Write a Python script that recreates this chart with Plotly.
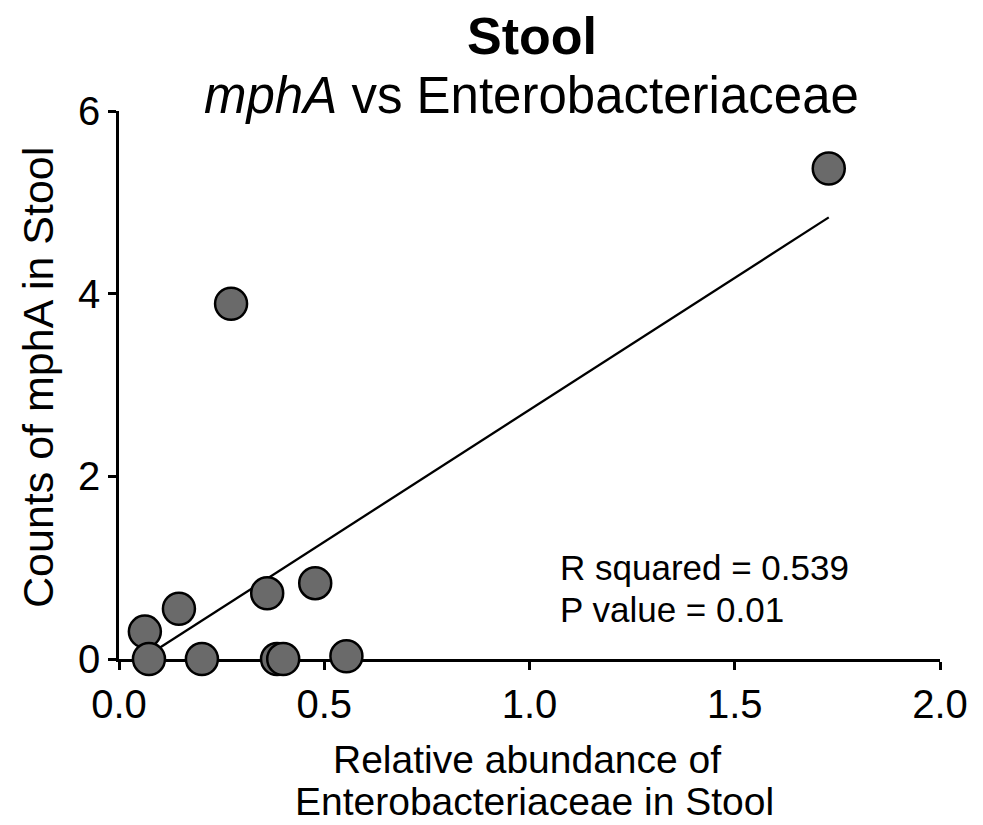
import numpy as np
import plotly.graph_objects as go

# Data
abundance = [0.063, 0.073, 0.146, 0.202, 0.361, 0.478, 0.385, 0.400, 0.554, 0.273, 1.729]
counts = [0.30, 0.00, 0.55, 0.00, 0.72, 0.83, 0.00, 0.00, 0.03, 3.89, 5.37]
x_ticks = [0.0, 0.5, 1.0, 1.5, 2.0]
y_ticks = [0, 2, 4, 6]
title_text = "<b>Stool</b>"
subtitle_text = "<i>mphA</i> vs Enterobacteriaceae"
stats_lines = ["R squared = 0.539", "P value = 0.01"]
x_title_lines = ["Relative abundance of", "Enterobacteriaceae in Stool"]
y_title = "Counts of mphA in Stool"

# Linear regression from the data
slope, intercept = np.polyfit(abundance, counts, 1)
fit_x = [min(abundance), max(abundance)]
fit_y = [slope * v + intercept for v in fit_x]

FONT = "Liberation Sans, Arial, sans-serif"

fig = go.Figure()
fig.add_trace(go.Scatter(x=fit_x, y=fit_y, mode="lines",
                         line=dict(color="black", width=2.3), hoverinfo="skip",
                         showlegend=False, cliponaxis=False))
fig.add_trace(go.Scatter(x=abundance, y=counts, mode="markers",
                         marker=dict(size=32, color="#6a6a6a",
                                     line=dict(color="black", width=2.5)),
                         showlegend=False, cliponaxis=False))

# The page body has an 8px default margin; compensate so the plot lands
# at the same page pixels as the reference.
OFF = 8
W, H = 983 - OFF, 825 - OFF
L, R, T, B = 119 - OFF, 43, 111 - OFF, 166
pw, ph = W - L - R, H - T - B


def px_x(p):  # page pixel -> paper x
    return (p - OFF - L) / pw


def px_y(p):  # page pixel -> paper y
    return (H - B - (p - OFF)) / ph


annotations = [
    dict(text=title_text, x=px_x(532), y=px_y(36), font=dict(size=52)),
    dict(text=subtitle_text, x=px_x(531), y=px_y(96), font=dict(size=51)),
    dict(text=stats_lines[0], x=px_x(558), y=px_y(567), xanchor="left", font=dict(size=35)),
    dict(text=stats_lines[1], x=px_x(558), y=px_y(609), xanchor="left", font=dict(size=35)),
    dict(text=x_title_lines[0], x=px_x(527), y=px_y(759), font=dict(size=39)),
    dict(text=x_title_lines[1], x=px_x(534), y=px_y(801), font=dict(size=39)),
    dict(text=y_title, x=px_x(38), y=px_y(378), textangle=-90, font=dict(size=43)),
]
for a in annotations:
    a.setdefault("xanchor", "center")
    a.update(xref="paper", yref="paper", yanchor="middle", showarrow=False)
    a["font"].update(family=FONT, color="black")

fig.update_layout(
    width=W, height=H,
    margin=dict(l=L, r=R, t=T, b=B),
    paper_bgcolor="white", plot_bgcolor="white",
    font=dict(family=FONT, color="black"),
    annotations=annotations,
    xaxis=dict(range=[0, 2], tickvals=x_ticks, ticktext=[f"{v:.1f}" for v in x_ticks],
               showgrid=False, zeroline=False, showline=True, linecolor="black",
               linewidth=2.5, ticks="outside", ticklen=8, tickwidth=2.5,
               tickcolor="black", tickfont=dict(size=40, family=FONT),
               layer="below traces", fixedrange=True),
    yaxis=dict(range=[0, 6], tickvals=y_ticks, ticktext=[str(v) for v in y_ticks],
               showgrid=False, zeroline=False, showline=True, linecolor="black",
               linewidth=2.5, ticks="outside", ticklen=8, tickwidth=2.5,
               tickcolor="black", tickfont=dict(size=40, family=FONT),
               layer="below traces", fixedrange=True),
)

fig.write_html("out.html")
